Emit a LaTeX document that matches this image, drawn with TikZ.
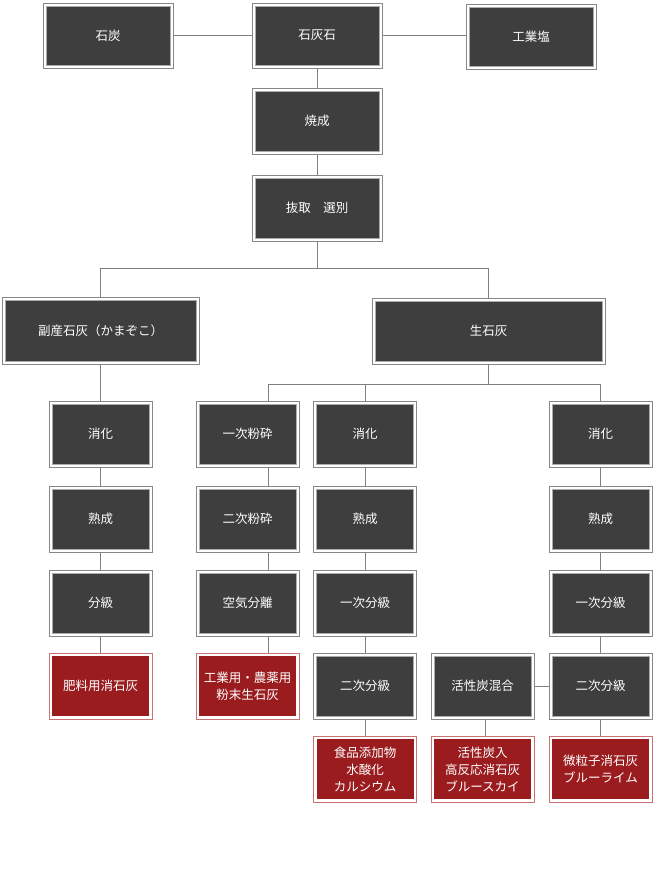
\documentclass[tikz,border=0pt]{standalone}
\usepackage{fontspec}
\setmainfont{Noto Sans CJK JP}
\usetikzlibrary{calc}
\definecolor{boxdark}{HTML}{3E3E3E}
\definecolor{boxred}{HTML}{9A1C1F}
\definecolor{edgegray}{HTML}{878787}
\definecolor{edgered}{HTML}{C87272}
\definecolor{linegray}{HTML}{808080}
\tikzset{
  base/.style={rectangle, inner sep=0pt, line width=1pt, fill=white,
    text=white, font=\fontsize{12.5}{17}\selectfont, align=center,
    minimum height=66pt},
  dark/.style={base, draw=edgegray,
    path picture={\fill[boxdark, draw=edgegray!70, line width=0.6pt]
      ([shift={(3pt,-3pt)}]path picture bounding box.north west) rectangle
      ([shift={(-3pt,3pt)}]path picture bounding box.south east);}},
  redbox/.style={base, draw=edgered,
    path picture={\fill[boxred]
      ([shift={(3pt,-3pt)}]path picture bounding box.north west) rectangle
      ([shift={(-3pt,3pt)}]path picture bounding box.south east);}},
  small/.style={minimum width=103pt},
  wide/.style={minimum width=130pt},
  conn/.style={draw=linegray, line width=1pt},
}
\begin{document}
\begin{tikzpicture}[x=1pt,y=-1pt]
\useasboundingbox (0,0) rectangle (655,870);
% top
\node[dark,wide,minimum height=65pt] (coal) at (108,35.5) {石炭};
\node[dark,wide,minimum height=65pt] (ls) at (317,35.5) {石灰石};
\node[dark,wide,minimum height=65pt] (salt) at (531,36.5) {工業塩};
\node[dark,wide] (calc) at (317,121) {焼成};
\node[dark,wide] (sel) at (317,208) {抜取　選別};
\node[dark,minimum width=197pt,minimum height=67pt] (by) at (100.5,330.5) {副産石灰（かまぞこ）};
\node[dark,minimum width=233pt] (qui) at (488.5,331) {生石灰};
% column 1
\node[dark,small] (c1a) at (100.5,434) {消化};
\node[dark,small] (c1b) at (100.5,519) {熟成};
\node[dark,small] (c1c) at (100.5,603) {分級};
\node[redbox,small] (c1d) at (100.5,686) {肥料用消石灰};
% column 2
\node[dark,small] (c2a) at (247.5,434) {一次粉砕};
\node[dark,small] (c2b) at (247.5,519) {二次粉砕};
\node[dark,small] (c2c) at (247.5,603) {空気分離};
\node[redbox,small] (c2d) at (247.5,686) {工業用・農薬用\\粉末生石灰};
% column 3
\node[dark,small] (c3a) at (365,434) {消化};
\node[dark,small] (c3b) at (365,519) {熟成};
\node[dark,small] (c3c) at (365,603) {一次分級};
\node[dark,small] (c3d) at (365,686) {二次分級};
\node[redbox,small] (c3e) at (365,769) {食品添加物\\水酸化\\カルシウム};
% column 5 (active carbon)
\node[dark,small] (c5d) at (482.5,686) {活性炭混合};
\node[redbox,small] (c5e) at (482.5,769) {活性炭入\\高反応消石灰\\ブルースカイ};
% column 4
\node[dark,small] (c4a) at (600.5,434) {消化};
\node[dark,small] (c4b) at (600.5,519) {熟成};
\node[dark,small] (c4c) at (600.5,603) {一次分級};
\node[dark,small] (c4d) at (600.5,686) {二次分級};
\node[redbox,small] (c4e) at (600.5,769) {微粒子消石灰\\ブルーライム};
% junctions
\coordinate (j1) at (317,268.5);
\coordinate (j2) at (488.5,384.5);
% connectors
\draw[conn] (coal.east) -- (coal.east -| ls.west);
\draw[conn] (ls.east) -- (ls.east -| salt.west);
\draw[conn] (ls.south) -- (calc.north);
\draw[conn] (calc.south) -- (sel.north);
\draw[conn] (sel.south) -- (j1);
\draw[conn] (by.north) |- (j1) -| (qui.north);
\draw[conn] (qui.south) -- (j2);
\draw[conn] (j2) -| ([xshift=20.5pt]c2a.north);
\draw[conn] (j2) -| (c3a.north);
\draw[conn] (j2) -| (c4a.north);
% column 1
\draw[conn] (by.south) -- (c1a.north);
\draw[conn] (c1a.south) -- (c1b.north);
\draw[conn] (c1b.south) -- (c1c.north);
\draw[conn] (c1c.south) -- (c1d.north);
% column 2
\draw[conn] ([xshift=20.5pt]c2a.south) -- ([xshift=20.5pt]c2b.north);
\draw[conn] ([xshift=20.5pt]c2b.south) -- ([xshift=20.5pt]c2c.north);
\draw[conn] ([xshift=20.5pt]c2c.south) -- ([xshift=20.5pt]c2d.north);
% column 3
\draw[conn] (c3a.south) -- (c3b.north);
\draw[conn] (c3b.south) -- (c3c.north);
\draw[conn] (c3c.south) -- (c3d.north);
\draw[conn] (c3d.south) -- (c3e.north);
% column 4
\draw[conn] (c4a.south) -- (c4b.north);
\draw[conn] (c4b.south) -- (c4c.north);
\draw[conn] (c4c.south) -- (c4d.north);
\draw[conn] (c4d.south) -- (c4e.north);
% active carbon
\draw[conn] (c5d.east) -- (c4d.west);
\draw[conn] ([xshift=3pt]c5d.south) -- ([xshift=3pt]c5e.north);
\end{tikzpicture}
\end{document}
